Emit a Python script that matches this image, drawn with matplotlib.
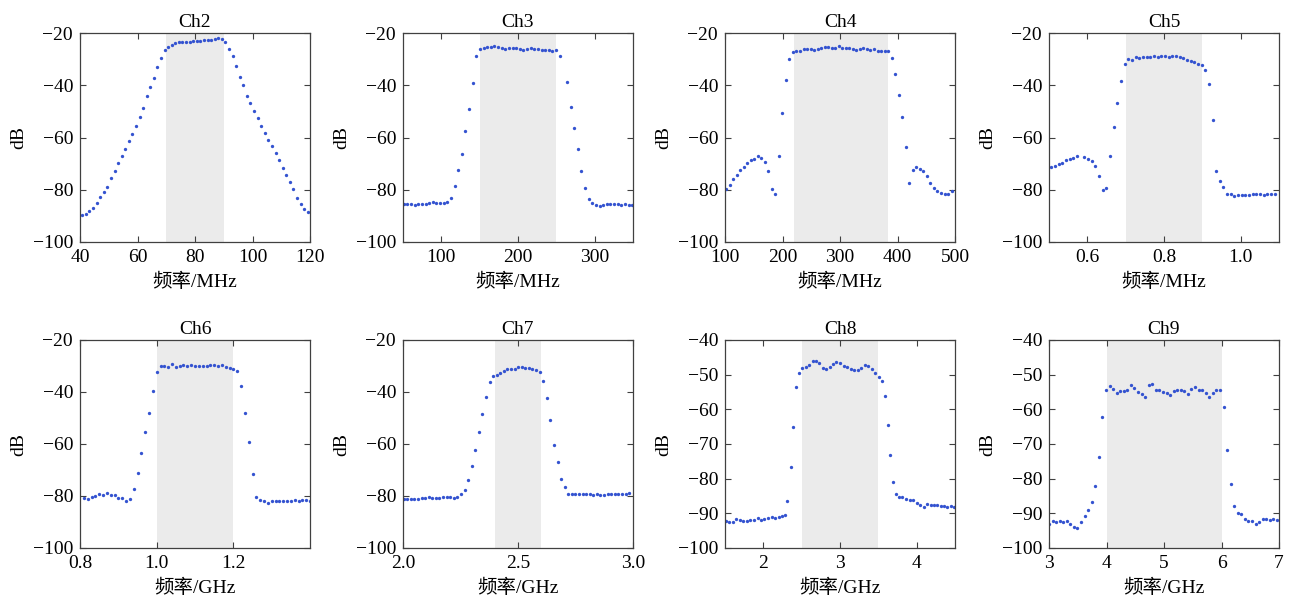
import numpy as np
import matplotlib
matplotlib.use('Agg')
import matplotlib.pyplot as plt

plt.rcParams['font.family'] = ['Liberation Serif', 'Noto Sans CJK SC', 'DejaVu Sans']
plt.rcParams['font.size'] = 14

nan = float('nan')

# ---------------- data ----------------
titles = ['Ch2', 'Ch3', 'Ch4', 'Ch5', 'Ch6', 'Ch7', 'Ch8', 'Ch9']
xlabels = ['频率/MHz', '频率/MHz', '频率/MHz', '频率/MHz',
           '频率/GHz', '频率/GHz', '频率/GHz', '频率/GHz']

# sampling grids (first freq, last freq, number of samples)
ch2_grid = (40.8, 119.2, 64)
ch3_grid = (51.0, 349.0, 64)
ch4_grid = (101.7, 494.0, 65)
ch5_grid = (0.506, 1.089, 62)
ch6_grid = (0.81, 1.40, 60)
ch7_grid = (2.003, 2.983, 64)
ch9_grid = (3.0, 6.965, 65)

ch2_db = [-89.8, -89.3, -88.2, -87.0, -85.1, -82.8, -81.0, -78.9, -75.5, -72.7,
          -69.7, -67.2, -64.3, -61.5, -58.6, -55.5, -52.1, -48.7, -44.2, -40.7,
          -37.1, -33.1, -29.4, -26.6, -25.4, -24.5, -24.0, -23.6, -23.4, -23.3,
          -23.3, -23.2, -23.0, -23.0, -22.8, -22.7, -22.5, -22.3, -21.9, -22.4,
          -23.6, -26.1, -28.9, -32.8, -36.8, -40.0, -44.0, -46.8, -49.8, -52.7,
          -55.7, -58.3, -60.8, -63.4, -65.9, -68.7, -71.7, -74.5, -77.1, -79.9,
          -83.1, -85.3, -87.2, -88.5]

ch3_db = [-85.3, -85.3, -85.5, -85.8, -85.4, -85.6, -85.5, -85.2, -84.8, -84.9,
          -85.0, -85.2, -84.5, -83.0, -78.5, -72.5, -66.2, -57.7, -49.0, -39.0,
          -28.8, -26.2, -25.6, -25.4, -25.3, -24.9, -25.3, -25.8, -26.0, -25.6,
          -25.6, -25.9, -26.0, -26.4, -26.1, -25.8, -26.0, -26.3, -26.5, -26.4,
          -26.6, -27.0, -26.6, -28.7, nan, -38.7, -48.2, -56.2, -64.3, -72.8,
          -79.2, -83.5, -85.0, -85.8, -86.2, -85.7, -85.6, -85.3, -85.5, -85.6,
          -85.8, -85.5, -85.7, -85.9]

ch4_db = [-79.7, -78.1, -75.8, -74.3, -72.4, -71.2, -69.9, -68.7, -68.1, -67.1,
          -67.9, -69.3, -72.9, -79.9, -81.8, -66.9, -50.6, -37.9, -30.0, -27.4,
          -26.8, -26.7, -26.0, -26.3, -26.3, -26.4, -26.0, -25.6, -25.5, -25.4,
          -25.6, -25.8, -25.0, -25.6, -25.8, -25.9, -26.1, -26.4, -26.1, -25.9,
          -26.3, -26.5, -26.1, -26.7, -27.0, -26.9, -26.8, -29.7, -35.7, -43.8,
          -52.0, -63.7, -77.6, -72.4, -71.2, -71.9, -72.9, -74.8, -77.4, -79.3,
          -80.6, -81.2, -81.6, -81.5, -80.5]

ch5_db = [-71.3, -70.8, -70.2, -69.6, -68.8, -68.3, -67.9, -67.1, nan, -67.5,
          -68.2, -69.0, -71.0, -74.6, -80.2, -79.4, -67.1, -56.1, -46.8, -38.3,
          -32.0, -30.0, -30.4, -29.3, -29.5, -29.2, -29.2, -29.0, -28.7, -29.0,
          -28.8, -28.7, -29.0, -28.8, -28.7, -29.2, -29.6, -30.2, -30.6, -31.0,
          -31.7, -32.2, -34.0, -39.7, -53.3, -72.9, -76.6, -79.0, -81.5, -81.8,
          -82.4, -82.1, -82.2, -82.2, -82.0, -81.8, -81.6, -81.8, -82.0, -81.6,
          -81.5, -81.5]

ch6_db = [-80.9, -81.1, -80.4, -79.9, -79.4, -79.7, -79.0, -79.5, -79.5, -80.6,
          -80.7, -81.8, -81.2, -77.4, -71.3, -63.4, -55.5, -47.9, -39.5, -32.3,
          -30.0, -30.0, -30.2, -29.3, -30.2, -29.9, -29.7, -30.1, -29.6, -29.9,
          -30.0, -30.0, -29.9, -29.7, -29.6, -30.0, -29.6, -30.2, -30.6, -31.0,
          -31.8, -37.7, -47.9, -59.4, -71.7, -80.3, -81.6, -82.1, -82.6, -82.0,
          -81.8, -81.8, -81.8, -81.8, -81.8, -81.7, -81.8, -81.7, -81.7, -82.1]

ch7_db = [-81.0, -81.0, -81.0, -81.2, -81.0, -80.6, -80.7, -80.3, -80.8, -80.6,
          -80.7, -80.5, -80.5, -80.3, -80.6, -80.2, -79.3, -77.6, -74.0, -68.5,
          -62.4, -55.3, -48.4, -41.8, -36.3, -33.7, -33.4, -32.5, -31.8, -31.3,
          -31.3, -31.0, -30.3, -30.4, -30.7, -30.9, -31.3, -31.7, -32.2, -35.7,
          -42.3, -50.8, -60.3, -67.0, -73.3, -76.6, -79.1, -79.3, -79.3, -79.2,
          -79.4, -79.3, -79.4, -79.5, -79.3, -79.6, -79.8, -79.4, -79.3, -79.2,
          -79.4, -79.3, -79.1, -79.0]

ch8_ghz = [1.509, 1.552, 1.600, 1.644, 1.692, 1.736, 1.784, 1.828, 1.876, 1.924,
           1.967, 2.015, 2.059, 2.107, 2.151, 2.199, 2.242, 2.286, 2.312, 2.356,
           2.391, 2.426, 2.469, 2.509, 2.552, 2.596, 2.644, 2.688, 2.731, 2.775,
           2.819, 2.867, 2.910, 2.954, 3.002, 3.046, 3.094, 3.138, 3.186, 3.229,
           3.277, 3.321, 3.365, 3.413, 3.456, 3.504, 3.548, 3.583, 3.622, 3.653,
           3.692, 3.731, 3.771, 3.814, 3.862, 3.910, 3.954, 3.998, 4.046, 4.090,
           4.138, 4.181, 4.225, 4.269, 4.312, 4.356, 4.400, 4.444, 4.488]
ch8_db = [-92.1, -92.5, -92.5, -91.5, -92.0, -92.1, -92.3, -91.8, -92.0, -91.4,
          -91.8, -91.7, -91.4, -91.0, -91.3, -91.1, -90.9, -90.5, -86.5, -76.7,
          -65.1, -53.5, -49.4, -48.0, -47.8, -47.2, -46.2, -46.0, -46.6, -48.2,
          -48.4, -47.8, -47.0, -46.4, -46.6, -47.5, -47.8, -48.5, -48.7, -48.7,
          -48.0, -47.3, -47.4, -48.5, -49.4, -50.7, -51.8, -56.2, -64.4, -73.3,
          -81.0, -84.5, -85.3, -85.3, -85.9, -86.2, -86.2, -87.0, -87.7, -88.2,
          -87.2, -87.5, -87.7, -87.7, -87.8, -87.9, -88.3, -88.0, -88.2]

ch9_db = [-93.1, -92.2, -92.5, -92.1, -92.4, -92.3, -93.0, -93.8, -94.2, -92.6,
          -90.7, -88.9, -86.7, -82.2, -73.8, -62.2, -54.3, -53.3, -54.0, -55.2,
          -54.6, -54.6, -54.5, -53.1, -53.9, -55.0, -55.6, -56.4, -53.0, -52.6,
          -54.5, -54.5, -54.9, -55.4, -55.9, -54.8, -54.3, -54.3, -54.8, -55.5,
          -54.1, -53.5, -54.5, -54.5, -55.3, -56.3, -55.3, -54.5, -54.5, -59.2,
          -71.7, -81.5, -88.0, -89.9, -90.2, -91.5, -92.1, -92.3, -93.0, -92.6,
          -91.5, -91.7, -91.8, -91.6, -91.8]

# passbands (shaded)
bands = [(70, 90), (150, 250), (220, 383), (0.7, 0.9),
         (1.0, 1.2), (2.4, 2.6), (2.5, 3.5), (4.0, 6.0)]
xlims = [(40, 120), (50, 350), (100, 500), (0.5, 1.1),
         (0.8, 1.4), (2.0, 3.0), (1.5, 4.5), (3, 7)]
xticks = [[40, 60, 80, 100, 120], [100, 200, 300], [100, 200, 300, 400, 500],
          [0.6, 0.8, 1.0], [0.8, 1.0, 1.2], [2.0, 2.5, 3.0], [2, 3, 4],
          [3, 4, 5, 6, 7]]
xticklabels = [['40', '60', '80', '100', '120'], ['100', '200', '300'],
               ['100', '200', '300', '400', '500'], ['0.6', '0.8', '1.0'],
               ['0.8', '1.0', '1.2'], ['2.0', '2.5', '3.0'], ['2', '3', '4'],
               ['3', '4', '5', '6', '7']]
ylims = [(-100, -20)] * 6 + [(-100, -40)] * 2
ysteps = [20] * 6 + [10] * 2

series = [
    (np.linspace(*ch2_grid), ch2_db),
    (np.linspace(*ch3_grid), ch3_db),
    (np.linspace(*ch4_grid), ch4_db),
    (np.linspace(*ch5_grid), ch5_db),
    (np.linspace(*ch6_grid), ch6_db),
    (np.linspace(*ch7_grid), ch7_db),
    (np.array(ch8_ghz), ch8_db),
    (np.linspace(*ch9_grid), ch9_db),
]

# ---------------- layout ----------------
W, H = 1293, 600
fig = plt.figure(figsize=(W / 100, H / 100), dpi=100)
lefts = [80, 403, 725, 1049]
ax_w = 230
rows = [(33, 242), (340, 548)]

frame_col = '#404040'
dot_col = '#3453d0'
band_col = '#ebebeb'

for i in range(8):
    r, c = divmod(i, 4)
    top, bot = rows[r]
    ax = fig.add_axes([lefts[c] / W, (H - bot) / H, ax_w / W, (bot - top) / H])
    x, y = series[i]
    ax.axvspan(bands[i][0], bands[i][1], color=band_col, lw=0, zorder=0)
    ax.plot(x, np.array(y, dtype=float), linestyle='none', marker='o',
            ms=2.4, mew=0, color=dot_col, zorder=2)
    ax.set_xlim(*xlims[i])
    ax.set_ylim(*ylims[i])
    ax.set_xticks(xticks[i])
    ax.set_xticklabels(xticklabels[i])
    ax.set_yticks(np.arange(ylims[i][0], ylims[i][1] + 1, ysteps[i]))
    ax.set_title(titles[i], fontsize=14, pad=4)
    ax.set_xlabel(xlabels[i], fontsize=14, labelpad=5)
    ax.set_ylabel('dB', fontsize=14, labelpad=4)
    ax.tick_params(direction='in', length=4, width=0.8, color=frame_col,
                   top=True, right=True, labelsize=14, pad=5)
    for s in ax.spines.values():
        s.set_color(frame_col)
        s.set_linewidth(0.9)

fig.savefig('out.png', dpi=100)
